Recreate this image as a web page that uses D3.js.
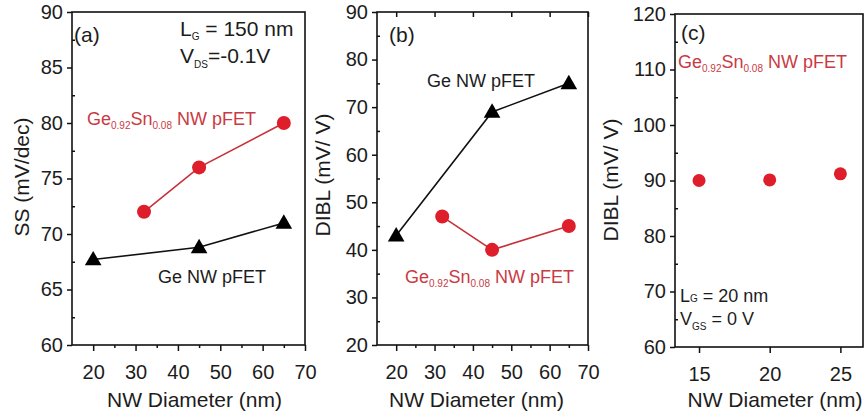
<!DOCTYPE html>
<html>
<head>
<meta charset="utf-8">
<script src="https://cdn.jsdelivr.net/npm/d3@7/dist/d3.min.js"></script>
<style>
  body { margin: 0; background: #fff; }
  svg { font-family: "Liberation Sans", Arial, sans-serif; }
</style>
</head>
<body>
<div id="container"></div>
<script>
// data //

// (a) subthreshold swing vs diameter
const ssGeDiameter = [20, 45, 65]
const ssGeValues = [67.7, 68.8, 71]
const ssGeSnDiameter = [32, 45, 65]
const ssGeSnValues = [72, 76, 80]

// (b) DIBL vs diameter, LG = 150 nm
const diblGeDiameter = [20, 45, 65]
const diblGeValues = [43, 69, 75]
const diblGeSnDiameter = [32, 45, 65]
const diblGeSnValues = [47, 40, 45]

// (c) DIBL vs diameter, LG = 20 nm
const dibl20Diameter = [15, 20, 25]
const dibl20Values = [90, 90.1, 91.2]

// ticks
const xTicksAB = [20, 30, 40, 50, 60, 70]
const xMinorAB = [25, 35, 45, 55, 65]
const yTicksA = [60, 65, 70, 75, 80, 85, 90]
const yMinorA = [62.5, 67.5, 72.5, 77.5, 82.5, 87.5]
const yTicksB = [20, 30, 40, 50, 60, 70, 80, 90]
const yMinorB = [25, 35, 45, 55, 65, 75, 85]
const xTicksC = [15, 20, 25]
const yTicksC = [60, 70, 80, 90, 100, 110, 120]
const yMinorC = [65, 75, 85, 95, 105, 115]

// end data //

const RED = '#de1e2a'
const RED_LINE = '#c8303a'
const RED_TEXT = '#c93a44'
const INK = '#1c1c1c'

const svg = d3.select('#container').append('svg')
    .attr('width', 867)
    .attr('height', 419)

function drawPanel(cfg) {
    const g = svg.append('g')
    const x = d3.scaleLinear().domain(cfg.xDomain).range([cfg.left, cfg.right])
    const y = d3.scaleLinear().domain(cfg.yDomain).range([cfg.bottom, cfg.top])

    // frame
    g.append('rect')
        .attr('x', cfg.left).attr('y', cfg.top)
        .attr('width', cfg.right - cfg.left).attr('height', cfg.bottom - cfg.top)
        .attr('fill', 'none').attr('stroke', '#111').attr('stroke-width', 1.6)

    const styleAxis = (sel, size) => {
        sel.select('.domain').remove()
        sel.selectAll('line').attr('stroke', '#111').attr('stroke-width', 1.5)
        sel.selectAll('text').attr('fill', INK).style('font-size', size + 'px')
            .style('font-family', '"Liberation Sans", Arial, sans-serif')
    }

    g.append('g').attr('transform', `translate(0,${cfg.bottom})`)
        .call(d3.axisBottom(x).tickValues(cfg.xTicks).tickSize(6).tickPadding(14))
        .call((s) => styleAxis(s, cfg.tickFont))
    if (cfg.xMinor) {
        g.append('g').attr('transform', `translate(0,${cfg.bottom})`)
            .call(d3.axisBottom(x).tickValues(cfg.xMinor).tickSize(3).tickFormat(''))
            .call((s) => styleAxis(s, cfg.tickFont))
    }
    if (cfg.topTicks) {
        g.append('g').attr('transform', `translate(0,${cfg.top})`)
            .call(d3.axisTop(x).tickValues(cfg.xTicks).tickSize(-5).tickFormat(''))
            .call((s) => styleAxis(s, cfg.tickFont))
    }
    g.append('g').attr('transform', `translate(${cfg.left},0)`)
        .call(d3.axisLeft(y).tickValues(cfg.yTicks).tickSize(5).tickPadding(4))
        .call((s) => styleAxis(s, cfg.tickFont))
    g.append('g').attr('transform', `translate(${cfg.left},0)`)
        .call(d3.axisLeft(y).tickValues(cfg.yMinor).tickSize(-3).tickFormat(''))
        .call((s) => styleAxis(s, cfg.tickFont))

    // axis titles
    g.append('text')
        .attr('x', (cfg.left + cfg.right) / 2 + cfg.xTitleShift)
        .attr('y', 407)
        .attr('text-anchor', 'middle')
        .style('font-size', '21px')
        .attr('fill', INK)
        .text('NW Diameter (nm)')
    g.append('text')
        .attr('transform', `translate(${cfg.yTitleX},${cfg.yTitleY}) rotate(-90)`)
        .attr('text-anchor', 'middle')
        .style('font-size', '21px')
        .attr('fill', INK)
        .text(cfg.yTitle)

    // series
    const line = d3.line().x((d) => x(d[0])).y((d) => y(d[1]))
    cfg.series.forEach((s) => {
        const pts = d3.zip(s.x, s.y)
        if (s.line) {
            g.append('path').datum(pts)
                .attr('d', line)
                .attr('fill', 'none')
                .attr('stroke', s.kind === 'tri' ? '#111' : RED_LINE)
                .attr('stroke-width', 1.6)
        }
        if (s.kind === 'tri') {
            g.selectAll(null).data(pts).join('path')
                .attr('d', d3.symbol(d3.symbolTriangle, 120))
                .attr('transform', (d) => `translate(${x(d[0])},${y(d[1]) + 1})`)
                .attr('fill', '#000')
        } else {
            g.selectAll(null).data(pts).join('circle')
                .attr('cx', (d) => x(d[0]))
                .attr('cy', (d) => y(d[1]))
                .attr('r', s.r)
                .attr('fill', RED)
        }
    })
    return g
}

function gesnLabel(g, xPos, yPos, size, subSize) {
    const t = g.append('text').attr('x', xPos).attr('y', yPos)
        .attr('fill', RED_TEXT).style('font-size', size + 'px')
    t.append('tspan').text('Ge')
    t.append('tspan').attr('dy', 4).style('font-size', subSize + 'px').text('0.92')
    t.append('tspan').attr('dy', -4).text('Sn')
    t.append('tspan').attr('dy', 4).style('font-size', subSize + 'px').text('0.08')
    t.append('tspan').attr('dy', -4).text(' NW pFET')
}

function plainText(g, xPos, yPos, size, txt, color = INK) {
    return g.append('text').attr('x', xPos).attr('y', yPos)
        .attr('fill', color).style('font-size', size + 'px').text(txt)
}

// (a)
const ga = drawPanel({
    left: 72, right: 305, top: 12, bottom: 345,
    xDomain: [15, 70], yDomain: [60, 90],
    xTicks: xTicksAB, xMinor: xMinorAB, yTicks: yTicksA, yMinor: yMinorA,
    tickFont: 20, xTitleShift: 6,
    yTitle: 'SS (mV/dec)', yTitleX: 29, yTitleY: 177,
    series: [
        { x: ssGeSnDiameter, y: ssGeSnValues, kind: 'circle', r: 7, line: true },
        { x: ssGeDiameter, y: ssGeValues, kind: 'tri', line: true }
    ]
})
plainText(ga, 74, 42, 21, '(a)')
const lg = plainText(ga, 180, 36, 21, 'L')
lg.append('tspan').attr('dy', 4).style('font-size', '10px').text('G')
lg.append('tspan').attr('dy', -4).text(' = 150 nm')
const vds = plainText(ga, 180, 63, 21, 'V')
vds.append('tspan').attr('dy', 5).style('font-size', '10px').text('DS')
vds.append('tspan').attr('dy', -5).text('=-0.1V')
gesnLabel(ga, 87, 125, 18, 10)
plainText(ga, 158, 283, 18, 'Ge NW pFET')

// (b)
const gb = drawPanel({
    left: 377, right: 588, top: 12, bottom: 345,
    xDomain: [15, 70], yDomain: [20, 90],
    xTicks: xTicksAB, xMinor: xMinorAB, yTicks: yTicksB, yMinor: yMinorB,
    tickFont: 20, topTicks: true, xTitleShift: -6,
    yTitle: 'DIBL (mV/ V)', yTitleX: 330, yTitleY: 175,
    series: [
        { x: diblGeDiameter, y: diblGeValues, kind: 'tri', line: true },
        { x: diblGeSnDiameter, y: diblGeSnValues, kind: 'circle', r: 7, line: true }
    ]
})
plainText(gb, 389, 42, 21, '(b)')
plainText(gb, 427, 87, 18, 'Ge NW pFET')
gesnLabel(gb, 405, 283, 18, 10)

// (c)
const gc = drawPanel({
    left: 675, right: 863, top: 14, bottom: 347,
    xDomain: [13.3, 26.6], yDomain: [60, 120],
    xTicks: xTicksC, xMinor: null, yTicks: yTicksC, yMinor: yMinorC,
    tickFont: 20, xTitleShift: 6,
    yTitle: 'DIBL (mV/ V)', yTitleX: 618, yTitleY: 180,
    series: [
        { x: dibl20Diameter, y: dibl20Values, kind: 'circle', r: 6.5, line: false }
    ]
})
plainText(gc, 681, 40, 21, '(c)')
gesnLabel(gc, 678, 68, 18, 10)
const lg2 = plainText(gc, 680, 302, 18, 'L')
lg2.append('tspan').style('font-size', '10px').text('G')
lg2.append('tspan').text(' = 20 nm')
const vgs = plainText(gc, 680, 325, 18, 'V')
vgs.append('tspan').attr('dy', 5).style('font-size', '10px').text('GS')
vgs.append('tspan').attr('dy', -5).text(' = 0 V')
</script>
</body>
</html>
